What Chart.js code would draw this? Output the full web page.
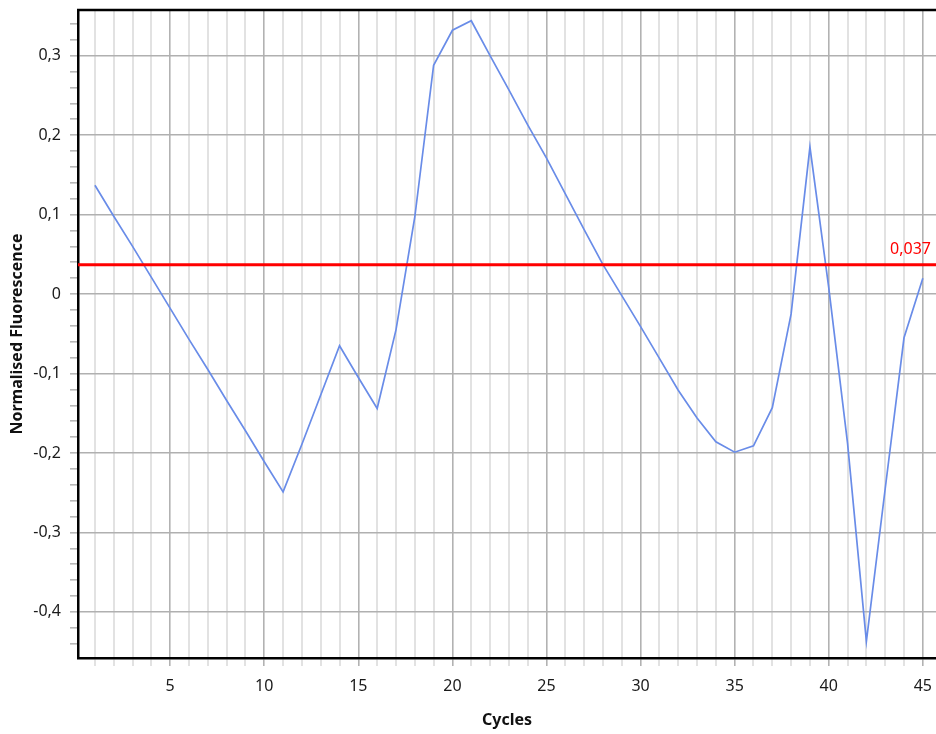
<!DOCTYPE html>
<html>
<head>
<meta charset="utf-8">
<script src="https://cdn.jsdelivr.net/npm/chart.js@4/dist/chart.umd.min.js"></script>
<style>
  html, body { margin: 0; padding: 0; background: #fff; overflow: hidden; }
  #wrap { width: 936px; height: 734px; }
</style>
</head>
<body>
<div id="wrap"><canvas id="fluoChart" width="936" height="734"></canvas></div>
<script>
// amplification curve, one reading per cycle
const cycles = [
    1, 2, 3, 4, 5, 6, 7, 8, 9, 10,
    11, 12, 13, 14, 15, 16, 17, 18, 19, 20,
    21, 22, 23, 24, 25, 26, 27, 28, 29, 30,
    31, 32, 33, 34, 35, 36, 37, 38, 39, 40,
    41, 42, 43, 44, 45
];
const fluorescence = [
    0.137, 0.098, 0.060, 0.021, -0.018, -0.057, -0.095, -0.134, -0.172, -0.211,
    -0.249, -0.189, -0.127, -0.065, -0.105, -0.144, -0.045, 0.097, 0.288, 0.332,
    0.344, 0.300, 0.257, 0.213, 0.171, 0.126, 0.081, 0.037, -0.002, -0.041,
    -0.081, -0.121, -0.156, -0.186, -0.199, -0.191, -0.143, -0.025, 0.185, 0.008,
    -0.188, -0.437, -0.245, -0.055, 0.020
];
const threshold = 0.037;

// labelled ticks; the other ticks are drawn as minor marks
const xLabelTicks = [5, 10, 15, 20, 25, 30, 35, 40, 45];
const yLabelTicks = [-0.4, -0.3, -0.2, -0.1, 0, 0.1, 0.2, 0.3];

const X_MIN = 0.1, X_MAX = 45.7;
const Y_MIN = -0.458, Y_MAX = 0.3575;

const FONT = "'Noto Sans', 'Open Sans', sans-serif";

function fmt(v, digits) {
    if (Math.abs(v) < 1e-9) return '0';
    return v.toFixed(digits).replace('.', ',');
}
function isLabelled(list, v) {
    return list.some(t => Math.abs(t - v) < 1e-6);
}

const frame = {
    id: 'frame',
    afterDraw(chart) {
        const { ctx, chartArea, scales } = chart;
        ctx.save();
        // top border of the plot
        ctx.strokeStyle = '#000';
        ctx.lineWidth = 2.5;
        ctx.beginPath();
        ctx.moveTo(chartArea.left - 1, chartArea.top);
        ctx.lineTo(chart.width, chartArea.top);
        ctx.stroke();
        // threshold value label
        const y = scales.y.getPixelForValue(threshold);
        ctx.fillStyle = '#ff0000';
        ctx.font = '16px ' + FONT;
        ctx.textAlign = 'right';
        ctx.textBaseline = 'bottom';
        ctx.fillText(fmt(threshold, 3), 931, y - 7);
        ctx.restore();
    }
};

new Chart(document.getElementById('fluoChart'), {
    type: 'line',
    data: {
        datasets: [{
            label: 'Threshold',
            data: [{ x: X_MIN, y: threshold }, { x: X_MAX, y: threshold }],
            borderColor: '#ff0000',
            borderWidth: 3,
            pointRadius: 0,
            order: 0
        }, {
            label: 'Sample',
            data: cycles.map((c, i) => ({ x: c, y: fluorescence[i] })),
            borderColor: 'rgb(105, 140, 232)',
            borderWidth: 1.7,
            pointRadius: 0,
            tension: 0,
            order: 1
        }]
    },
    options: {
        responsive: false,
        animation: false,
        layout: { padding: { top: 10, right: 0, left: 0, bottom: 0 } },
        plugins: {
            legend: { display: false },
            tooltip: { enabled: false }
        },
        scales: {
            x: {
                type: 'linear',
                min: X_MIN,
                max: X_MAX,
                afterFit(scale) {
                    scale.height = 76;
                    scale.paddingLeft = 0;
                    scale.paddingRight = 0;
                },
                border: { color: '#000', width: 2.5 },
                grid: {
                    color: ctx => isLabelled(xLabelTicks, ctx.tick.value) ? '#b2b2b2' : '#e2e2e2',
                    lineWidth: ctx => isLabelled(xLabelTicks, ctx.tick.value) ? 1.6 : 2,
                    tickColor: ctx => isLabelled(xLabelTicks, ctx.tick.value) ? '#b2b2b2' : '#e2e2e2',
                    tickLength: 8
                },
                ticks: {
                    stepSize: 1,
                    includeBounds: false,
                    autoSkip: false,
                    maxRotation: 0,
                    padding: 11,
                    color: '#1a1a1a',
                    font: { family: FONT, size: 16 },
                    callback: v => isLabelled(xLabelTicks, v) ? String(Math.round(v)) : ''
                },
                title: {
                    display: true,
                    text: 'Cycles',
                    color: '#111',
                    font: { family: FONT, size: 16, weight: 'bold' },
                    padding: { top: 0, bottom: 4 }
                }
            },
            y: {
                type: 'linear',
                min: Y_MIN,
                max: Y_MAX,
                afterFit(scale) {
                    scale.width = 78;
                    scale.paddingTop = 0;
                    scale.paddingBottom = 0;
                },
                border: { color: '#000', width: 2.5 },
                grid: {
                    color: ctx => isLabelled(yLabelTicks, ctx.tick.value) ? '#b0b0b0' : 'rgba(0,0,0,0)',
                    lineWidth: 1.6,
                    tickColor: '#b8b8b8',
                    tickLength: 8
                },
                ticks: {
                    stepSize: 0.02,
                    includeBounds: false,
                    autoSkip: false,
                    padding: 9,
                    color: '#1a1a1a',
                    font: { family: FONT, size: 16 },
                    callback: v => isLabelled(yLabelTicks, v) ? fmt(v, 1) : ''
                },
                title: {
                    display: true,
                    text: 'Normalised Fluorescence',
                    color: '#111',
                    font: { family: FONT, size: 16, weight: 'bold' },
                    padding: { top: 8, bottom: 0 }
                }
            }
        }
    },
    plugins: [frame]
});
</script>
</body>
</html>
